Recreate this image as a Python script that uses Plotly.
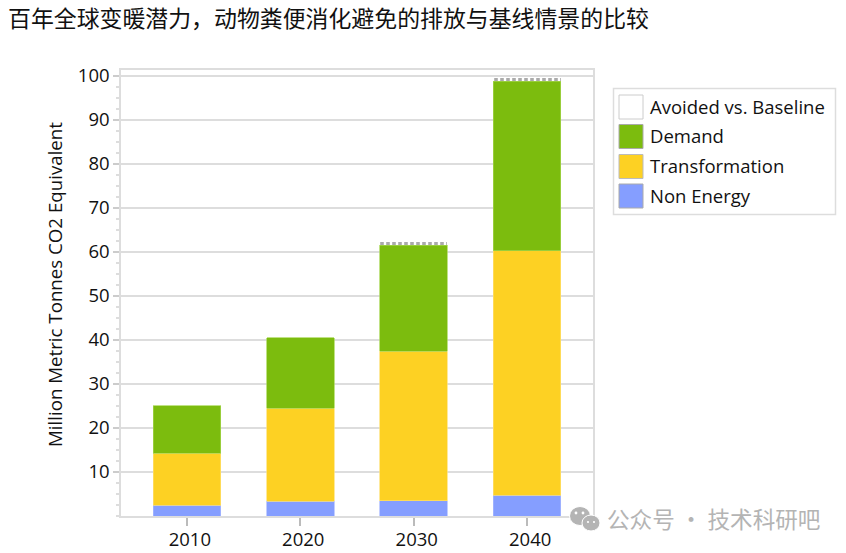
import plotly.graph_objects as go

years = ["2010", "2020", "2030", "2040"]
non_energy = [2.4, 3.3, 3.5, 4.7]
transformation = [11.8, 21.2, 33.9, 55.6]
demand = [10.8, 16.0, 24.1, 38.5]
avoided = [0, 0, 0.7, 0.7]
y_ticks = [10, 20, 30, 40, 50, 60, 70, 80, 90, 100]
legend_names = ["Avoided vs. Baseline", "Demand", "Transformation", "Non Energy"]
legend_colors = ["#ffffff", "#7cbc0e", "#fdd123", "#859eff"]
legend_borders = ["#cccccc", "#aaaaaa", "#bbbbbb", "#aaaaaa"]
title_text = "百年全球变暖潜力，动物粪便消化避免的排放与基线情景的比较"
y_title = "Million Metric Tonnes CO2 Equivalent"
watermark = "公众号 · 技术科研吧"

W, H = 846, 553
L, R, T, B = 121, 593, 70, 516
FONT = "Open Sans, Noto Sans, sans-serif"
CJK = "Noto Sans CJK SC"


def px(x):
    return (x - L) / (R - L)


def py(y):
    return (B - y) / (B - T)


fig = go.Figure()
bar_w = 0.595
fig.add_bar(x=years, y=non_energy, width=bar_w, name="Non Energy",
            marker=dict(color="#859eff", line=dict(color="#a8b9ff", width=0.7)))
fig.add_bar(x=years, y=transformation, width=bar_w, name="Transformation",
            marker=dict(color="#fdd123", line=dict(color="#fde070", width=0.7)))
fig.add_bar(x=years, y=demand, width=bar_w, name="Demand",
            marker=dict(color="#7cbc0e", line=dict(color="#a5d650", width=0.7)))
fig.add_bar(x=years, y=avoided, width=bar_w, name="Avoided vs. Baseline",
            marker=dict(color="#ffffff", line=dict(width=0),
                        pattern=dict(shape="|", size=6, solidity=0.6,
                                     fgcolor="#555555", bgcolor="#ffffff")))

shapes = []
annotations = []

# legend box
shapes.append(dict(type="rect", xref="paper", yref="paper", x0=px(613.5), x1=px(835.5),
                   y0=py(214.5), y1=py(88.5), line=dict(color="#dddddd", width=1.5),
                   fillcolor="#ffffff"))
tops = [95, 124.5, 154.5, 184]
for name, col, bd, t in zip(legend_names, legend_colors, legend_borders, tops):
    shapes.append(dict(type="rect", xref="paper", yref="paper", x0=px(619), x1=px(643),
                       y0=py(t + 24), y1=py(t), line=dict(color=bd, width=1), fillcolor=col))
    annotations.append(dict(text=name, xref="paper", yref="paper", x=px(648), y=py(t + 11),
                            xanchor="left", yanchor="middle", showarrow=False,
                            font=dict(family=FONT, size=18.5, color="#111111")))

# y axis title, centred above the plot's middle as in the reference
annotations.append(dict(text=y_title, xref="paper", yref="paper", x=px(54), y=py(285),
                        xanchor="center", yanchor="middle", showarrow=False, textangle=-90,
                        font=dict(family=FONT, size=18.7, color="#111111")))

# watermark icon
GREY = "#b4b4b4"
for cx, cy, rx, ry in [(580, 516, 10.5, 9.5), (591, 523, 9, 8)]:
    shapes.append(dict(type="circle", xref="paper", yref="paper", x0=px(cx - rx), x1=px(cx + rx),
                       y0=py(cy + ry), y1=py(cy - ry), fillcolor=GREY,
                       line=dict(color="#ffffff", width=1)))
for cx, cy, r in [(576, 513, 1.4), (583, 513, 1.4), (588, 522, 1.1), (594, 522, 1.1)]:
    shapes.append(dict(type="circle", xref="paper", yref="paper", x0=px(cx - r), x1=px(cx + r),
                       y0=py(cy + r), y1=py(cy - r), fillcolor="#ffffff", line=dict(width=0)))

annotations.append(dict(text=watermark, xref="paper", yref="paper", x=px(605), y=py(518.5),
                        xanchor="left", yanchor="middle", showarrow=False,
                        font=dict(family=CJK, size=22.6, color="#b4b4b4")))

fig.update_layout(
    width=W, height=H, autosize=False,
    margin=dict(l=L, r=W - R, t=T, b=H - B, pad=0),
    paper_bgcolor="#ffffff", plot_bgcolor="#ffffff",
    barmode="stack", showlegend=False,
    title=dict(text=title_text, x=8 / W, xanchor="left", y=1 - 19 / H, yanchor="middle",
               font=dict(family=CJK, size=22.9, color="#111111")),
    shapes=shapes, annotations=annotations,
    xaxis=dict(type="category", range=[-0.58, 3.58], ticks="outside", ticklen=8, tickwidth=1.5,
               tickcolor="#bbbbbb", showgrid=False, showline=True, linecolor="#dddddd", linewidth=1.5,
               mirror=True, automargin=False, ticklabelshift=3, ticklabelstandoff=-2,
               tickfont=dict(family=FONT, size=18.5, color="#111111")),
    yaxis=dict(range=[0, 101.3], tickvals=y_ticks, ticks="outside", ticklen=6, tickwidth=1.5,
               tickcolor="#cccccc", showgrid=True, gridcolor="#dddddd", gridwidth=1.5, showline=True,
               linecolor="#dddddd", linewidth=1.5, mirror=True, zeroline=False, automargin=False,
               tickfont=dict(family=FONT, size=18.5, color="#111111"),
               minor=dict(dtick=2.5, tick0=0, ticks="outside", ticklen=3, tickcolor="#dddddd",
                          showgrid=False)),
)

fig.write_html("out.html", post_script="document.body.style.margin='0';",
               config=dict(displayModeBar=False))
